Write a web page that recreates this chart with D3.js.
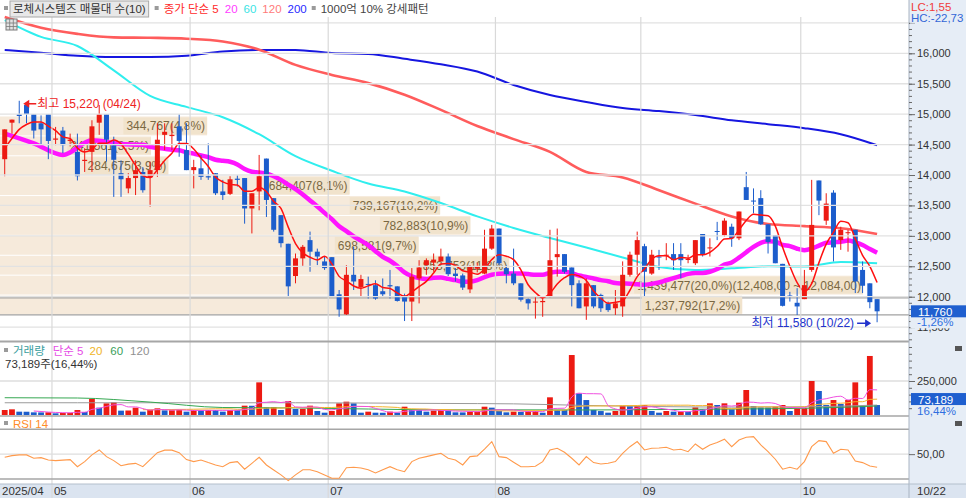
<!DOCTYPE html>
<html>
<head>
<meta charset="utf-8">
<script src="https://cdn.jsdelivr.net/npm/d3@7"></script>
<style>
	body { margin: 0; background: #fff; }
	svg { display: block; font-family: 'Liberation Sans', 'Noto Sans CJK KR', sans-serif; }
</style>
</head>
<body>
<svg id="chart" width="966" height="498"></svg>
<script>
// trading days per month, 2025/04/22 .. 2025/10/22
const monthLabels = ['2025/04', '05', '06', '07', '08', '09', '10']
const tradingDays = [
	['04', [22, 23, 24, 25, 28, 29, 30]],
	['05', [2, 7, 8, 9, 12, 13, 14, 15, 16, 19, 20, 21, 22, 23, 26, 27, 28, 29, 30]],
	['06', [2, 4, 5, 9, 10, 11, 12, 13, 16, 17, 18, 19, 20, 23, 24, 25, 26, 27, 30]],
	['07', [1, 2, 3, 4, 7, 8, 9, 10, 11, 14, 15, 16, 17, 18, 21, 22, 23, 24, 25, 28, 29, 30, 31]],
	['08', [1, 4, 5, 6, 7, 8, 11, 12, 13, 14, 18, 19, 20, 21, 22, 25, 26, 27, 28, 29]],
	['09', [1, 2, 3, 4, 5, 8, 9, 10, 11, 12, 15, 16, 17, 18, 19, 22, 23, 24, 25, 26, 29, 30]],
	['10', [1, 2, 10, 13, 14, 15, 16, 17, 20, 21, 22]]
]

const opens = [
	14260, 14860, 15000, 15150, 15000, 14850, 15000, 14580, 14730, 14560,
	14380, 14230, 14380, 14860, 15000, 14490, 14030, 13780, 13950, 14050,
	13960, 14080, 14660, 14640, 14800, 14410, 14080, 14110, 13980, 14030,
	13730, 13690, 13940, 13950, 13450, 13730, 14270, 13620, 13340, 12870,
	12340, 12630, 12930, 12740, 12580, 12650, 12040, 11710, 12360, 12160,
	12210, 12190, 12090, 12190, 12170, 12020, 11920, 12300, 12520, 12560,
	12580, 12660, 12380, 12350, 12120, 12460, 12380, 12790, 13120, 12470,
	12380, 12220, 11960, 11910, 11910, 12000, 12650, 12700, 12480, 12220,
	11840, 12190, 12030, 11890, 11810, 11840, 12360, 12690, 12830, 12380,
	12660, 12680, 12700, 12700, 12610, 12550, 13030, 12800, 13080, 13010,
	13150, 12960, 13800, 13580, 13620, 13190, 13010, 12540, 12020, 11900,
	11960, 12440, 13910, 13250, 13710, 12930, 13050, 13100, 12440, 12220, 11960
]
const highs = [
	14750, 14910, 15220, 15200, 15000, 14980, 15000, 14790, 14790, 14680,
	14680, 14440, 14900, 15150, 15000, 14630, 14240, 14030, 14240, 14130,
	14220, 14850, 14850, 14850, 15000, 14850, 14250, 14330, 14520, 14030,
	13920, 13980, 14000, 13950, 13700, 14330, 14270, 13620, 13340, 12870,
	12710, 12850, 13070, 12790, 12660, 12650, 12110, 12520, 12820, 12360,
	12330, 12270, 12300, 12440, 12170, 12050, 12470, 12600, 12630, 12710,
	12790, 12710, 12470, 12380, 12520, 12560, 13100, 13180, 13120, 12520,
	12790, 12220, 11970, 12000, 12000, 13100, 13120, 12700, 12480, 12270,
	12300, 12190, 12050, 11920, 12110, 12580, 12740, 13070, 12870, 12770,
	12770, 12880, 12880, 12880, 12690, 12930, 13030, 12960, 13230, 13290,
	13200, 13400, 14050, 13780, 13750, 13190, 13010, 12540, 12080, 12140,
	12440, 13920, 13910, 13700, 13750, 13150, 13100, 13100, 12580, 12220, 11960
]
const lows = [
	13980, 14680, 14850, 14850, 14600, 14490, 14260, 14490, 14360, 14470,
	13910, 14050, 14050, 14660, 14220, 13640, 13640, 13700, 13670, 13710,
	13480, 13970, 14410, 14410, 14300, 14080, 13780, 13920, 13920, 13670,
	13590, 13670, 13810, 13200, 13040, 13420, 13310, 13070, 12810, 12000,
	12220, 12490, 12410, 12520, 12440, 12000, 11670, 11700, 12110, 12000,
	11970, 11950, 12000, 11970, 11920, 11600, 11600, 11890, 12360, 12410,
	12580, 12340, 12250, 12110, 12060, 12400, 12370, 12770, 12520, 12220,
	12190, 11920, 11790, 11640, 11670, 11990, 12330, 12380, 11840, 11810,
	11620, 11810, 11750, 11750, 11700, 11670, 12330, 12360, 12000, 12360,
	12440, 12600, 12440, 12300, 12550, 12520, 12660, 12660, 12930, 12990,
	12820, 12930, 13590, 13370, 13180, 12710, 12550, 11840, 11920, 11700,
	11960, 12410, 13340, 13180, 12580, 12770, 12740, 12060, 12060, 11810, 11580
]
const closes = [
	14750, 14910, 14970, 15000, 14730, 14750, 14560, 14600, 14490, 14580,
	13980, 14250, 14800, 15000, 14580, 14250, 13930, 13950, 14080, 13750,
	14080, 14580, 14710, 14660, 14560, 14080, 14130, 13970, 13960, 13700,
	13670, 13930, 13920, 13450, 13700, 13980, 13590, 13100, 12880, 12170,
	12630, 12820, 12740, 12660, 12470, 12010, 11790, 12360, 12250, 12290,
	12200, 11970, 12040, 12170, 11930, 11920, 12330, 12480, 12600, 12610,
	12660, 12370, 12340, 12150, 12490, 12500, 12790, 13120, 12550, 12370,
	12220, 11950, 11890, 11920, 11930, 12600, 12700, 12410, 12190, 11810,
	12220, 11840, 11810, 11780, 11890, 12360, 12690, 12930, 12410, 12690,
	12650, 12690, 12600, 12600, 12620, 12930, 12690, 12810, 13070, 13250,
	12960, 13400, 13590, 13570, 13190, 12900, 12550, 11850, 12010, 11840,
	12190, 13180, 13580, 13530, 12810, 13100, 13060, 12250, 12180, 11910, 11760
]
const volumes = [
	36800, 41700, 24500, 24000, 19600, 19000, 20000, 12300, 14700, 15500,
	36800, 22000, 117600, 54000, 85800, 93000, 32000, 33000, 54000, 24500,
	36800, 49000, 34000, 35000, 36000, 24500, 36800, 36000, 37000, 36500,
	24500, 36800, 36000, 68600, 68000, 240000, 56000, 57000, 37000, 103000,
	44000, 45000, 68600, 29400, 17000, 29400, 85800, 98000, 85800, 17000,
	24500, 17000, 16500, 24500, 17000, 61000, 36800, 36000, 24500, 32000,
	36800, 32000, 19600, 19000, 24500, 25000, 61000, 54000, 29400, 19600,
	24500, 23000, 29000, 30000, 17000, 130000, 37000, 36000, 441000, 159000,
	110000, 37000, 29000, 17000, 29400, 66000, 65000, 66500, 73500, 29400,
	17000, 29400, 24500, 25000, 24500, 56000, 41700, 85800, 73500, 85800,
	41700, 90700, 183800, 66000, 56000, 55500, 61000, 73500, 29400, 49000,
	50000, 250000, 176500, 73500, 110000, 81000, 110000, 240000, 66000, 434000, 73189
]
const rsi14 = [
	47.5, 48.8, 49.4, 49.4, 46.7, 47.2, 45.3, 44.8, 45.2, 45.6,
	39.9, 44.0, 49.4, 53.4, 48.0, 44.8, 40.7, 42.0, 42.6, 39.9,
	45.6, 51.2, 53.2, 53.2, 51.2, 45.6, 44.0, 45.3, 43.2, 41.3,
	39.9, 43.2, 44.0, 37.9, 42.6, 47.5, 41.3, 37.3, 33.3, 28.7,
	33.3, 37.5, 37.5, 35.9, 33.3, 30.6, 30.6, 39.1, 39.4, 38.9,
	37.5, 34.9, 37.5, 39.9, 37.5, 35.9, 44.0, 46.7, 48.0, 49.4,
	50.7, 46.7, 45.3, 41.3, 48.0, 48.6, 54.0, 60.1, 48.0, 47.2,
	43.5, 39.9, 39.9, 40.3, 44.0, 53.4, 54.7, 51.5, 46.7, 41.3,
	48.0, 43.2, 42.1, 42.7, 44.0, 50.7, 56.0, 60.1, 53.4, 54.7,
	55.0, 55.6, 53.4, 53.9, 52.0, 58.2, 53.9, 57.4, 59.3, 62.0,
	56.0, 61.4, 63.6, 64.1, 57.4, 52.0, 45.9, 37.9, 39.5, 37.9,
	44.0, 56.0, 60.9, 60.1, 50.7, 53.9, 53.4, 44.5, 43.2, 40.5, 39.5
]

// long moving averages, one value every 5 sessions
const maSampleStep = 5
const ma60 = [16546, 16270, 16120, 15720, 15300, 15120, 14950, 14670, 14310, 14070, 13860, 13730, 13540,
	13320, 13130, 12965, 12810, 12645, 12490, 12440, 12466, 12500, 12495, 12570, 12550]
const ma120 = [16596, 16420, 16320, 16262, 16255, 16240, 16195, 16060, 15810, 15645, 15510, 15320, 15070,
	14805, 14590, 14380, 14050, 13960, 13750, 13530, 13320, 13195, 13160, 13125, 13030]
const ma200 = [16054, 16010, 15960, 15940, 15940, 15960, 16030, 16054, 16054, 16004, 15990, 15910, 15820,
	15700, 15480, 15315, 15200, 15100, 15050, 14985, 14900, 14836, 14770, 14670, 14490]
// start of the short averages (needs sessions before the window)
const ma20HeadStep = 4
const ma20Head = [14680, 14520, 14330, 14570, 14510]
const ma5Head = [14440, 14600, 14750, 14830]
// volume averages, one value every 10 sessions
const volMaSampleStep = 10
const volMa60 = [127000, 125000, 95000, 55000, 52000, 44000, 38000, 38000, 37000, 40000, 44000, 49000, 66000]
const volMa120 = [90000, 90000, 90000, 90000, 90000, 88000, 85000, 82000, 70000, 62000, 58000, 60000, 73000]
const volTurnover = 16.44

// 매물대: 10 price bands, bottom to top
const profileRange = [11700, 14970]
const profileVolumes = [1237792, 1439477, 853753, 698581, 782883, 739167, 684407, 284675, 241561, 344767]
const profilePct = [17.2, 20.0, 11.8, 9.7, 10.9, 10.2, 8.1, 3.9, 3.5, 4.8]
const profileMaxBand = [12408, 12084]
const refLevels = [11980, 11700]

const priceTicks = [11500, 12000, 12500, 13000, 13500, 14000, 14500, 15000, 15500, 16000]
const volTicks = [250000]
const rsiTicks = [50]

const W = 966
const H = 498
const plotRight = 909
const UP = '#ec1a12'
const DOWN = '#1c5dcc'

const pad2 = (d) => String(d).padStart(2, '0')
const dates = tradingDays.flatMap(([m, days]) => days.map((d) => m + '/' + pad2(d)))
const monthStarts = tradingDays.map(([m, days]) => m + '/' + pad2(days[0]))

const x = d3.scaleBand().domain(dates).range([1.07, 880.74])
const cx = (i) => x(dates[i]) + x.bandwidth() / 2
const yPrice = d3.scaleLinear().domain([11300, 16600]).range([339.3, 16.8])
const yVol = d3.scaleLinear().domain([0, 250000]).range([415, 381])
const yRsi = d3.scaleLinear().domain([30, 70]).range([479, 429.3])
const xProfile = d3.scaleLinear().domain([0, d3.max(profilePct)]).range([0, 863])

// korean terminal style numbers: 1,234,56 and -1,26
const fmt = (v, n) => d3.format(',.' + n + 'f')(v).replace('\u2212', '-').replace(/\.(\d+)$/, ',$1')
const sma = (arr, n, i) => d3.mean(arr.slice(i - n + 1, i + 1))
const sampled = (vals, step) => vals.map((v, k) => [k * step, v])

const svg = d3.select('#chart')
svg.append('rect').attr('width', W).attr('height', H).attr('fill', '#fff')
svg.append('rect').attr('x', plotRight).attr('width', W - plotRight).attr('height', 484).attr('fill', '#e6edf6')
svg.append('rect').attr('y', 484).attr('width', W).attr('height', H - 484).attr('fill', '#dbe4f0')

svg.append('defs').append('clipPath').attr('id', 'main-clip')
	.append('rect').attr('x', 0).attr('y', 14).attr('width', plotRight).attr('height', 327)

const main = svg.append('g').attr('clip-path', 'url(#main-clip)')

// volume profile bands
const bandStep = (profileRange[1] - profileRange[0]) / profileVolumes.length
const bands = profileVolumes.map((v, k) => ({
	v,
	pct: profilePct[k],
	lo: profileRange[0] + k * bandStep,
	hi: profileRange[0] + (k + 1) * bandStep,
	isMax: v === d3.max(profileVolumes)
}))
main.append('g').selectAll('rect').data(bands).join('rect')
	.attr('x', 0)
	.attr('y', (d) => yPrice(d.hi) + 0.5)
	.attr('width', (d) => xProfile(d.pct))
	.attr('height', (d) => yPrice(d.lo) - yPrice(d.hi) - 1)
	.attr('fill', '#f6eadb')

// grid
const grid = svg.append('g')
grid.selectAll('line.h').data(priceTicks.concat([16500])).join('line')
	.attr('class', 'h')
	.attr('x1', 0).attr('x2', plotRight)
	.attr('y1', (d) => yPrice(d)).attr('y2', (d) => yPrice(d))
	.attr('stroke', '#e2e2e2').attr('stroke-width', 1.3)
grid.selectAll('line.v').data(monthStarts.slice(1)).join('line')
	.attr('class', 'v')
	.attr('x1', (d) => x(d)).attr('x2', (d) => x(d))
	.attr('y1', 17).attr('y2', H)
	.attr('stroke', '#d9d9d9').attr('stroke-width', 1.2)
grid.selectAll('line.vol').data(volTicks).join('line')
	.attr('class', 'vol')
	.attr('x1', 0).attr('x2', plotRight)
	.attr('y1', (d) => yVol(d)).attr('y2', (d) => yVol(d))
	.attr('stroke', '#dedede').attr('stroke-width', 1.3)
grid.selectAll('line.rsi').data(rsiTicks).join('line')
	.attr('class', 'rsi')
	.attr('x1', 0).attr('x2', plotRight)
	.attr('y1', (d) => yRsi(d)).attr('y2', (d) => yRsi(d))
	.attr('stroke', '#dedede').attr('stroke-width', 1.3)

main.append('g').selectAll('line').data(refLevels).join('line')
	.attr('x1', 0).attr('x2', plotRight)
	.attr('y1', (d) => yPrice(d)).attr('y2', (d) => yPrice(d))
	.attr('stroke', '#a2a2a2').attr('stroke-width', 1.2)

// profile labels
main.append('g').selectAll('g').data(bands).join('g')
	.each(function (d) {
		const g = d3.select(this)
		const right = xProfile(d.pct)
		const top = yPrice(d.hi)
		const bottom = yPrice(d.lo)
		const box = g.append('rect')
		let label = d3.format(',')(d.v) + '(' + fmt(d.pct, 1) + '%)'
		if (d.isMax) label += '(' + fmt(profileMaxBand[0], 2) + ' ~ ' + fmt(profileMaxBand[1], 2) + ')'
		const txt = g.append('text')
			.attr('x', right - 2)
			.attr('y', (top + bottom) / 2 + 4.5)
			.attr('text-anchor', 'end')
			.attr('font-size', 12)
			.attr('fill', '#7a6842')
			.text(label)
		const w = txt.node().getComputedTextLength()
		box.attr('x', right - w - 5).attr('y', top + 1.5)
			.attr('width', w + 5).attr('height', bottom - top - 3)
			.attr('fill', '#f1e3cc')
	})

// moving averages
const priceLine = d3.line()
	.x((d) => cx(d[0]))
	.y((d) => yPrice(d[1]))
	.curve(d3.curveMonotoneX)

const ma20Pts = sampled(ma20Head, ma20HeadStep)
	.concat(d3.range(19, closes.length).map((i) => [i, sma(closes, 20, i)]))
const ma5Pts = ma5Head.map((v, i) => [i, v])
	.concat(d3.range(4, closes.length).map((i) => [i, sma(closes, 5, i)]))

const maSeries = [
	{ pts: sampled(ma200, maSampleStep), color: '#1616e0', width: 2 },
	{ pts: sampled(ma120, maSampleStep), color: '#ff5c5c', width: 2.6 },
	{ pts: sampled(ma60, maSampleStep), color: '#30eeee', width: 2 },
	{ pts: ma20Pts, color: '#ff14ff', width: 4.5 }
]
main.append('g').selectAll('path').data(maSeries).join('path')
	.attr('d', (d) => priceLine(d.pts))
	.attr('fill', 'none')
	.attr('stroke', (d) => d.color)
	.attr('stroke-width', (d) => d.width)
	.attr('stroke-linejoin', 'round')

// candles
const candles = main.append('g').selectAll('g').data(dates).join('g')
	.attr('fill', (d, i) => closes[i] >= opens[i] ? UP : DOWN)
	.attr('stroke', (d, i) => closes[i] >= opens[i] ? UP : DOWN)
candles.append('line')
	.attr('x1', (d, i) => cx(i)).attr('x2', (d, i) => cx(i))
	.attr('y1', (d, i) => yPrice(highs[i])).attr('y2', (d, i) => yPrice(lows[i]))
	.attr('stroke-width', 1)
candles.append('rect')
	.attr('x', (d, i) => cx(i) - 2.5)
	.attr('width', 5)
	.attr('y', (d, i) => yPrice(Math.max(opens[i], closes[i])))
	.attr('height', (d, i) => Math.max(1, Math.abs(yPrice(opens[i]) - yPrice(closes[i]))))
	.attr('stroke', 'none')

main.append('path')
	.attr('d', priceLine(ma5Pts))
	.attr('fill', 'none')
	.attr('stroke', '#ff1010')
	.attr('stroke-width', 1.5)

// high / low markers
const iHigh = d3.maxIndex(highs)
const iLow = d3.minIndex(lows)
const hiG = svg.append('g').attr('fill', '#ee2222').attr('stroke', '#ee2222')
const hx = cx(iHigh) + 4
const hy = yPrice(highs[iHigh]) + 3
hiG.append('path').attr('d', `M${hx},${hy} l6,-4 v8 z`).attr('stroke', 'none')
hiG.append('line').attr('x1', hx + 5).attr('x2', hx + 13).attr('y1', hy).attr('y2', hy).attr('stroke-width', 1.5)
hiG.append('text').attr('x', hx + 14).attr('y', hy + 4).attr('font-size', 12).attr('stroke', 'none')
	.text('최고 ' + d3.format(',')(highs[iHigh]) + ' (' + dates[iHigh] + ')')

const loG = svg.append('g').attr('fill', '#2233cc').attr('stroke', '#2233cc')
const lx = cx(iLow) - 6
const ly = yPrice(lows[iLow]) + 1
loG.append('path').attr('d', `M${lx},${ly} l-6,-4 v8 z`).attr('stroke', 'none')
loG.append('line').attr('x1', lx - 14).attr('x2', lx - 5).attr('y1', ly).attr('y2', ly).attr('stroke-width', 1.5)
loG.append('text').attr('x', lx - 17).attr('y', ly + 4).attr('font-size', 12).attr('stroke', 'none')
	.attr('text-anchor', 'end')
	.text('최저 ' + d3.format(',')(lows[iLow]) + ' (' + dates[iLow] + ')')

// panel borders
const borders = [[341.5, '#a6a6a6', 2], [416, '#a6a6a6', 1.5], [429.3, '#a6a6a6', 1.5], [479, '#a6a6a6', 1.5], [484, '#b4bfcc', 1]]
svg.append('g').selectAll('line').data(borders).join('line')
	.attr('x1', 0).attr('x2', plotRight)
	.attr('y1', (d) => d[0]).attr('y2', (d) => d[0])
	.attr('stroke', (d) => d[1]).attr('stroke-width', (d) => d[2])
svg.append('line').attr('x1', plotRight).attr('x2', plotRight).attr('y1', 0).attr('y2', H)
	.attr('stroke', '#a9b4c2')
svg.append('line').attr('x1', plotRight).attr('x2', W).attr('y1', 484).attr('y2', 484).attr('stroke', '#b4bfcc')

// volume
svg.append('g').selectAll('rect').data(volumes).join('rect')
	.attr('x', (d, i) => cx(i) - 2.9)
	.attr('width', 5.8)
	.attr('y', (d) => yVol(d))
	.attr('height', (d) => yVol(0) - yVol(d))
	.attr('fill', (d, i) => i === 0 || d >= volumes[i - 1] ? UP : DOWN)

const volLine = d3.line()
	.x((d) => cx(d[0]))
	.y((d) => yVol(d[1]))
	.curve(d3.curveMonotoneX)
const volSeries = [
	{ pts: sampled(volMa120, volMaSampleStep), color: '#9a9a9a' },
	{ pts: sampled(volMa60, volMaSampleStep), color: '#36a852' },
	{ pts: d3.range(19, volumes.length).map((i) => [i, sma(volumes, 20, i)]), color: '#f4b42c' },
	{ pts: d3.range(4, volumes.length).map((i) => [i, sma(volumes, 5, i)]), color: '#f050e0' }
]
svg.append('g').selectAll('path').data(volSeries).join('path')
	.attr('d', (d) => volLine(d.pts))
	.attr('fill', 'none')
	.attr('stroke', (d) => d.color)
	.attr('stroke-width', 1)

// RSI
svg.append('path')
	.attr('d', d3.line().x((d, i) => cx(i)).y((d) => yRsi(d))(rsi14))
	.attr('fill', 'none')
	.attr('stroke', '#ff9a4c')
	.attr('stroke-width', 1.1)

// right axes
const styleAxis = (g) => {
	g.attr('font-size', 11).attr('font-family', null)
	g.select('.domain').remove()
	g.selectAll('line').attr('stroke', '#6a6a6a')
	g.selectAll('text').attr('fill', '#333')
}
svg.append('g').attr('transform', `translate(${plotRight},0)`)
	.call(d3.axisRight(yPrice).tickValues(d3.range(11300, 16600, 100)).tickSize(3).tickFormat(''))
	.call(styleAxis)
svg.append('g').attr('transform', `translate(${plotRight},0)`)
	.call(d3.axisRight(yPrice).tickValues(priceTicks.concat([16500])).tickSize(6).tickPadding(2)
		.tickFormat((d) => d === 16500 ? '' : d3.format(',')(d)))
	.call(styleAxis)
svg.append('g').attr('transform', `translate(${plotRight},0)`)
	.call(d3.axisRight(yVol).tickValues(d3.range(50000, 500001, 50000).filter((v) => yVol(v) > 345)).tickSize(3).tickFormat(''))
	.call(styleAxis)
svg.append('g').attr('transform', `translate(${plotRight},0)`)
	.call(d3.axisRight(yVol).tickValues(volTicks).tickSize(6).tickPadding(2).tickFormat(d3.format(',')))
	.call(styleAxis)
svg.append('g').attr('transform', `translate(${plotRight},0)`)
	.call(d3.axisRight(yRsi).tickValues(rsiTicks).tickSize(6).tickPadding(2).tickFormat((d) => fmt(d, 2)))
	.call(styleAxis)

// x axis labels
svg.append('g').selectAll('text').data(monthStarts).join('text')
	.attr('x', (d, i) => i === 0 ? 2 : x(d) + 2)
	.attr('y', 495)
	.attr('font-size', 11.5)
	.attr('fill', '#333')
	.text((d, i) => monthLabels[i])
svg.append('text').attr('x', 917).attr('y', 495).attr('font-size', 11.5).attr('fill', '#333')
	.text(dates[dates.length - 1])

// last price / last volume boxes
const last = closes.length - 1
const chg = (closes[last] / closes[last - 1] - 1) * 100
const py = yPrice(closes[last])
svg.append('rect').attr('x', 910.5).attr('y', py + 6).attr('width', W - 910.5).attr('height', 11).attr('fill', '#e6edf6')
svg.append('rect').attr('x', 911).attr('y', py - 6).attr('width', W - 911).attr('height', 12).attr('fill', '#1f5fcf')
svg.append('text').attr('x', 918).attr('y', py + 4.5).attr('font-size', 11.5).attr('fill', '#fff')
	.text(d3.format(',')(closes[last]))
svg.append('text').attr('x', 917).attr('y', py + 15).attr('font-size', 11.5).attr('fill', '#2f6fe0')
	.text(fmt(chg, 2) + '%')

const vy = yVol(volumes[last])
svg.append('rect').attr('x', 911).attr('y', vy - 12).attr('width', W - 911).attr('height', 12).attr('fill', '#1f5fcf')
svg.append('text').attr('x', 918).attr('y', vy - 1.5).attr('font-size', 11.5).attr('fill', '#fff')
	.text(d3.format(',')(volumes[last]))
svg.append('text').attr('x', 917).attr('y', vy + 9.5).attr('font-size', 11.5).attr('fill', '#2f6fe0')
	.text(fmt(volTurnover, 2) + '%')

// LC / HC
const lc = (closes[last] / d3.min(lows) - 1) * 100
const hc = (closes[last] / d3.max(highs) - 1) * 100
svg.append('rect').attr('x', 910).attr('y', 0).attr('width', W - 910).attr('height', 24).attr('fill', '#e6edf6').attr('opacity', 0.6)
svg.append('text').attr('x', 911).attr('y', 11).attr('font-size', 11.5).attr('fill', '#f03c3c').text('LC:' + fmt(lc, 2))
svg.append('text').attr('x', 911).attr('y', 22).attr('font-size', 11.5).attr('fill', '#3366d6').text('HC:' + fmt(hc, 2))

// legends
const flow = (g, x0, y, items) => {
	let xx = x0
	items.forEach((it) => {
		if (it.square) {
			g.append('rect').attr('x', xx).attr('y', y - 7).attr('width', 4).attr('height', 4).attr('fill', '#9a9a9a')
			xx += 9
			return
		}
		const t = g.append('text').attr('x', xx).attr('y', y).attr('fill', it.color).text(it.text)
		const w = t.node().getComputedTextLength()
		if (it.boxed) {
			g.insert('rect', 'text').attr('x', xx - 3).attr('y', y - 12).attr('width', w + 6).attr('height', 16)
				.attr('fill', '#e8e8e8').attr('stroke', '#a8a8a8')
		}
		xx += w + (it.gap || 6)
	})
}
const topLegend = svg.append('g').attr('font-size', 11.5)
flow(topLegend, 4, 13, [
	{ square: true },
	{ text: '로체시스템즈 매물대 수(10)', color: '#333', boxed: true, gap: 9 },
	{ square: true },
	{ text: '종가 단순 5', color: '#ff2a2a' },
	{ text: '20', color: '#ff3cff' },
	{ text: '60', color: '#3ae4e4' },
	{ text: '120', color: '#ff7a7a' },
	{ text: '200', color: '#2a2aff', gap: 5 },
	{ square: true },
	{ text: '1000억 10% 강세패턴', color: '#444' }
])
const volLegend = svg.append('g').attr('font-size', 11.5)
flow(volLegend, 4, 355, [
	{ square: true },
	{ text: '거래량', color: '#3a9e9e', gap: 8 },
	{ text: '단순 5', color: '#e64ce6' },
	{ text: '20', color: '#f0b428', gap: 8 },
	{ text: '60', color: '#3aa05a', gap: 7 },
	{ text: '120', color: '#909090' }
])
volLegend.append('text').attr('x', 5).attr('y', 368).attr('fill', '#333')
	.text(d3.format(',')(volumes[last]) + '주(' + fmt(volTurnover, 2) + '%)')
const rsiLegend = svg.append('g').attr('font-size', 11.5)
flow(rsiLegend, 4, 428, [
	{ square: true },
	{ text: 'RSI 14', color: '#ff8c28' }
])

// small icons
const icon = svg.append('g')
icon.append('rect').attr('x', 6).attr('y', 19).attr('width', 11).attr('height', 11)
	.attr('fill', '#e2e2e2').attr('stroke', '#7a7a7a')
icon.append('path').attr('d', 'M6,23h11M6,26.5h11M9.7,19v11M13.3,19v11').attr('stroke', '#7a7a7a').attr('stroke-width', 0.8)
icon.selectAll('rect.p').data([346, 421]).join('rect')
	.attr('class', 'p')
	.attr('x', 955).attr('y', (d) => d).attr('width', 7).attr('height', 5).attr('fill', '#555')
</script>
</body>
</html>
